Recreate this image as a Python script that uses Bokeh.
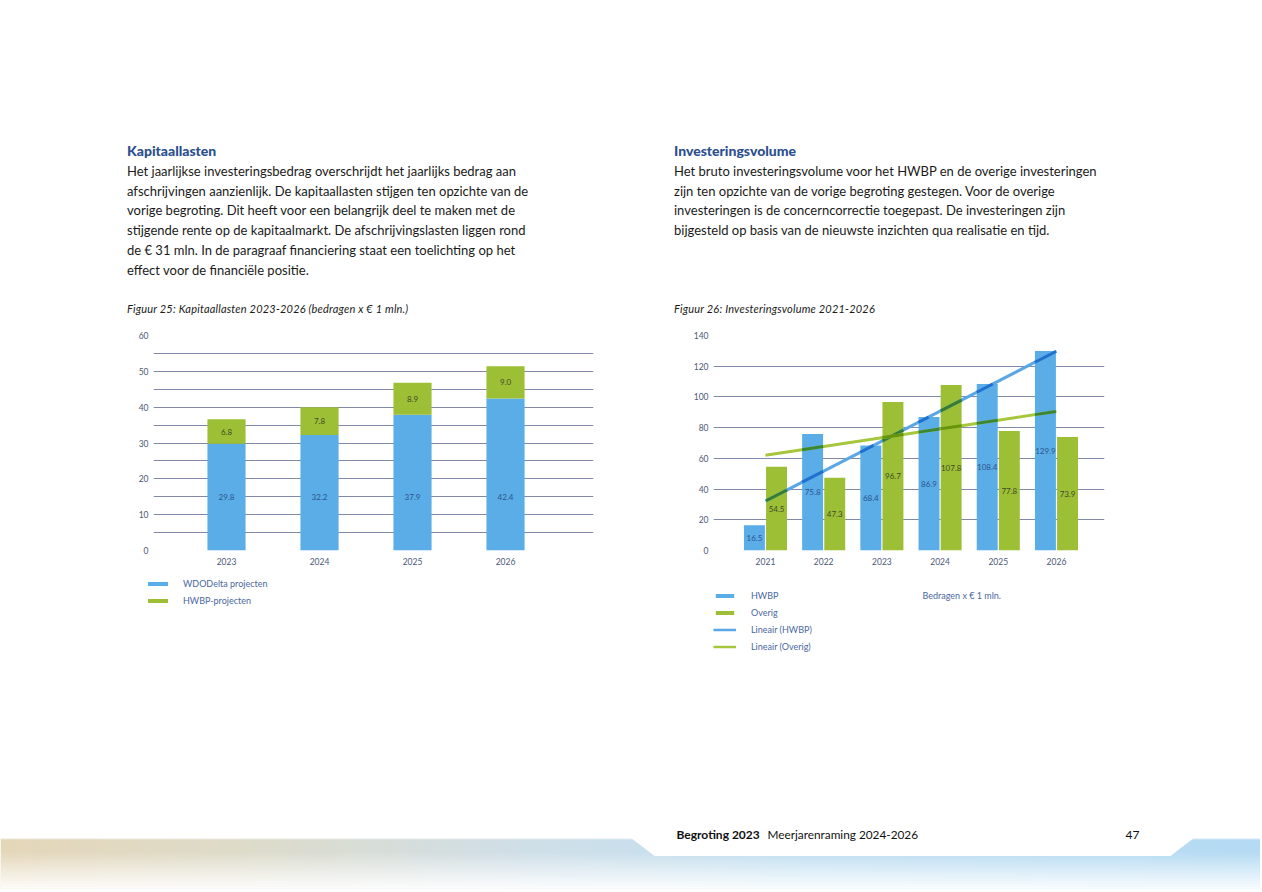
import numpy as np
from bokeh.plotting import figure
from bokeh.models import (Range1d, FixedTicker, Legend, LegendItem, Label, Div,
                          ColumnDataSource)
from bokeh.layouts import column, row
from bokeh.embed import file_html
from bokeh.resources import INLINE
from bokeh.core.properties import value

# ---------------- data ----------------
kap_years = [2023, 2024, 2025, 2026]
kap_wdodelta = [29.8, 32.2, 37.9, 42.4]
kap_hwbp = [6.8, 7.8, 8.9, 9.0]
kap_y_ticks = [0, 10, 20, 30, 40, 50, 60]
kap_series = ["WDODelta projecten", "HWBP-projecten"]

inv_years = [2021, 2022, 2023, 2024, 2025, 2026]
inv_hwbp = [16.5, 75.8, 68.4, 86.9, 108.4, 129.9]
inv_overig = [54.5, 47.3, 96.7, 107.8, 77.8, 73.9]
inv_y_ticks = [0, 20, 40, 60, 80, 100, 120, 140]
inv_series = ["HWBP", "Overig", "Lineair (HWBP)", "Lineair (Overig)"]

# ---------------- style ----------------
FONT = "Lato"
BLUE = "#5aade6"
GREEN = "#9dbf35"
BLUE_LINE = "#5aa6e6"
GREEN_LINE = "#a6c63c"
GRID = "#8089a8"
TICK_TXT = "#4d5878"
LEG_TXT = "#4a68a0"
LBL_BLUE = "#2d548f"
LBL_GREEN = "#3f4a2c"


def hex2rgb(h):
    h = h.lstrip("#")
    return tuple(int(h[i:i + 2], 16) for i in (0, 2, 4))


def multiply(c1, c2):
    a, b = hex2rgb(c1), hex2rgb(c2)
    return "#%02x%02x%02x" % tuple(int(round(x * y / 255)) for x, y in zip(a, b))


def style_fig(p):
    p.outline_line_color = None
    p.background_fill_color = "white"
    p.border_fill_color = "white"
    p.xgrid.grid_line_color = None
    p.ygrid.grid_line_color = GRID
    p.ygrid.grid_line_width = 1
    for ax in (p.xaxis[0], p.yaxis[0]):
        ax.axis_line_color = None
        ax.major_tick_line_color = None
        ax.minor_tick_line_color = None
        ax.major_tick_out = 0
        ax.major_tick_in = 0
        ax.minor_tick_out = 0
        ax.major_label_text_font = FONT
        ax.major_label_text_color = TICK_TXT
        ax.major_label_text_font_size = "8.5px"
    p.yaxis.major_label_standoff = 5
    p.xaxis.major_label_standoff = 7


def legend_fig(width, height):
    f = figure(width=width, height=height, x_range=Range1d(0, 1),
               y_range=Range1d(0, 1), output_backend="svg",
               toolbar_location=None, min_border=0)
    f.axis.visible = False
    f.grid.grid_line_color = None
    f.outline_line_color = None
    return f


def make_legend(items, loc, gw, standoff):
    return Legend(items=items, location=loc, orientation="vertical",
                  background_fill_alpha=0, border_line_color=None, padding=0,
                  margin=0, spacing=0, label_height=17, glyph_height=5,
                  glyph_width=gw, label_standoff=standoff, label_text_font=FONT,
                  label_text_font_size="9px", label_text_color=LEG_TXT)


# ---------------- header text (Div) ----------------
left_lines = [
    "Het jaarlijkse investeringsbedrag overschrijdt het jaarlijks bedrag aan",
    "afschrijvingen aanzienlijk. De kapitaallasten stijgen ten opzichte van de",
    "vorige begroting. Dit heeft voor een belangrijk deel te maken met de",
    "stijgende rente op de kapitaalmarkt. De afschrijvingslasten liggen rond",
    "de € 31 mln. In de paragraaf financiering staat een toelichting op het",
    "effect voor de financiële positie.",
]
right_lines = [
    "Het bruto investeringsvolume voor het HWBP en de overige investeringen",
    "zijn ten opzichte van de vorige begroting gestegen. Voor de overige",
    "investeringen is de concerncorrectie toegepast. De investeringen zijn",
    "bijgesteld op basis van de nieuwste inzichten qua realisatie en tijd.",
]

head_css = ("position:absolute;top:141px;font-family:Lato;font-weight:900;"
            "font-size:14px;line-height:20px;color:#2d4f8e;white-space:nowrap;")
body_css = ("position:absolute;top:162px;font-family:Lato;font-size:13px;"
            "line-height:19.7px;color:#1a1a1a;white-space:nowrap;")
cap_css = ("position:absolute;top:302px;font-family:Lato;font-style:italic;"
           "font-size:11px;letter-spacing:0.2px;line-height:14px;color:#1a1a1a;"
           "white-space:nowrap;")

html = f"""
<div style="position:relative;width:1260px;height:318px;">
  <div style="{head_css}left:127px;">Kapitaallasten</div>
  <div style="{body_css}left:127px;">{'<br>'.join(left_lines)}</div>
  <div style="{cap_css}left:127px;">Figuur 25: Kapitaallasten 2023-2026 (bedragen x € 1 mln.)</div>
  <div style="{head_css}left:674px;">Investeringsvolume</div>
  <div style="{body_css}left:674px;">{'<br>'.join(right_lines)}</div>
  <div style="{cap_css}left:674px;">Figuur 26: Investeringsvolume 2021-2026</div>
</div>
"""
header = Div(text=html, width=1260, height=318, margin=0)

# ---------------- left chart ----------------
p1 = figure(width=640, height=254, x_range=Range1d(2022.215, 2026.946),
            y_range=Range1d(0, 60), output_backend="svg", toolbar_location=None,
            min_border_left=153, min_border_right=47, min_border_top=17,
            min_border_bottom=22)
style_fig(p1)
p1.yaxis.ticker = FixedTicker(ticks=kap_y_ticks)
p1.ygrid.ticker = FixedTicker(ticks=list(np.arange(0, 61, 5)))
p1.xaxis.ticker = FixedTicker(ticks=kap_years)

kw = np.array(kap_wdodelta)
kh = np.array(kap_hwbp)
src1 = ColumnDataSource(dict(
    x=kap_years, w=kw, top2=kw + kh,
    lbl_w=[f"{v:.1f}" for v in kw], lbl_h=[f"{v:.1f}" for v in kh],
    y_w=[kw.min() / 2] * len(kw), y_h=kw + kh / 2,
))
bw = 0.41
p1.vbar(x="x", bottom=0, top="w", width=bw, source=src1,
        fill_color=BLUE, line_color=None)
p1.vbar(x="x", bottom="w", top="top2", width=bw, source=src1,
        fill_color=GREEN, line_color=None)
p1.text(x="x", y="y_w", text="lbl_w", source=src1, text_align="center",
        text_baseline="middle", text_font=value(FONT), text_font_size="8px",
        text_color=LBL_BLUE)
p1.text(x="x", y="y_h", text="lbl_h", source=src1, text_align="center",
        text_baseline="middle", text_font=value(FONT), text_font_size="8px",
        text_color=LBL_GREEN)

# ---------------- right chart ----------------
p2 = figure(width=620, height=254, x_range=Range1d(2020.107, 2026.825),
            y_range=Range1d(0, 140), output_backend="svg", toolbar_location=None,
            min_border_left=73, min_border_right=156, min_border_top=14,
            min_border_bottom=21)
style_fig(p2)
p2.yaxis.ticker = FixedTicker(ticks=inv_y_ticks)
p2.ygrid.ticker = FixedTicker(ticks=inv_y_ticks)
p2.xaxis.ticker = FixedTicker(ticks=inv_years)

off = 0.19
bw2 = 0.36
yrs = np.array(inv_years, dtype=float)
hb = np.array(inv_hwbp)
ho = np.array(inv_overig)
src2 = ColumnDataSource(dict(
    xb=yrs - off, xo=yrs + off, hb=hb, ho=ho,
    lb=[f"{v:.1f}" for v in hb], lo=[f"{v:.1f}" for v in ho],
    yb=hb / 2, yo=ho / 2,
))
p2.vbar(x="xb", top="hb", bottom=0, width=bw2, source=src2,
        fill_color=BLUE, line_color=None)
p2.vbar(x="xo", top="ho", bottom=0, width=bw2, source=src2,
        fill_color=GREEN, line_color=None)

# linear trend lines (least squares over each series)
xi = np.arange(len(yrs))
bars = [(x - off - bw2 / 2, x - off + bw2 / 2, h, BLUE) for x, h in zip(yrs, hb)] + \
       [(x + off - bw2 / 2, x + off + bw2 / 2, h, GREEN) for x, h in zip(yrs, ho)]


def trend(vals, color):
    b, a = np.polyfit(xi, vals, 1)
    x0, x1 = yrs[0], yrs[-1]
    p2.line([x0, x1], [a, a + b * (x1 - x0)], line_color=color, line_width=3)
    segs = {}
    for xl, xr, top, bc in bars:
        lo, hi = max(xl, x0), min(xr, x1)
        if lo >= hi:
            continue
        xc = x0 + (top - a) / b
        if b > 0:
            hi = min(hi, xc)
        else:
            lo = max(lo, xc)
        if hi <= lo:
            continue
        c = multiply(color, bc)
        segs.setdefault(c, ([], []))
        segs[c][0].append([lo, hi])
        segs[c][1].append([a + b * (lo - x0), a + b * (hi - x0)])
    for c, (xs, ys) in segs.items():
        p2.multi_line(xs, ys, line_color=c, line_width=3)


trend(hb, BLUE_LINE)
trend(ho, GREEN_LINE)

p2.text(x="xb", y="yb", text="lb", source=src2, text_align="center",
        text_baseline="middle", text_font=value(FONT), text_font_size="8px",
        text_color=LBL_BLUE)
p2.text(x="xo", y="yo", text="lo", source=src2, text_align="center",
        text_baseline="middle", text_font=value(FONT), text_font_size="8px",
        text_color=LBL_GREEN)

# ---------------- legends (below the charts) ----------------
NA = [float("nan")]
lg1 = legend_fig(640, 90)
e1 = lg1.vbar(x=NA, top=NA, width=0.1, fill_color=BLUE, line_color=None)
e2 = lg1.vbar(x=NA, top=NA, width=0.1, fill_color=GREEN, line_color=None)
lg1.add_layout(make_legend([LegendItem(label=kap_series[0], renderers=[e1]),
                            LegendItem(label=kap_series[1], renderers=[e2])],
                           (145, 53.5), 25, 13))

lg2 = legend_fig(620, 90)
f1 = lg2.vbar(x=NA, top=NA, width=0.1, fill_color=BLUE, line_color=None)
f2 = lg2.vbar(x=NA, top=NA, width=0.1, fill_color=GREEN, line_color=None)
f3 = lg2.line(x=NA, y=NA, line_color=BLUE_LINE, line_width=2.5)
f4 = lg2.line(x=NA, y=NA, line_color=GREEN_LINE, line_width=2.5)
lg2.add_layout(make_legend([LegendItem(label=inv_series[0], renderers=[f1]),
                            LegendItem(label=inv_series[1], renderers=[f2]),
                            LegendItem(label=inv_series[2], renderers=[f3]),
                            LegendItem(label=inv_series[3], renderers=[f4])],
                           (73, 7.5), 23, 15))
lg2.add_layout(Label(x=282, y=67, x_units="screen", y_units="screen",
                     text="Bedragen x € 1 mln.", text_baseline="middle",
                     text_font=FONT, text_font_size="9px", text_color=LEG_TXT))

# ---------------- footer ----------------
pf = figure(width=1260, height=228, x_range=Range1d(0, 1260),
            y_range=Range1d(890, 662), output_backend="svg",
            toolbar_location=None, min_border=0)
pf.axis.visible = False
pf.grid.grid_line_color = None
pf.outline_line_color = None
pf.border_fill_color = "white"
pf.background_fill_color = "white"

stops_x = [0, 250, 520, 800, 1262]
stops_c = [(229, 215, 185), (222, 220, 203), (208, 223, 232),
           (193, 223, 242), (180, 219, 244)]
xe = np.arange(0, 1270, 8)
cols = []
for x in xe[:-1] + 4:
    c = [np.interp(x, stops_x, [s[k] for s in stops_c]) for k in range(3)]
    cols.append("#%02x%02x%02x" % tuple(int(v) for v in c))
pf.quad(left=xe[:-1], right=xe[1:] + 0.5, top=838, bottom=892,
        fill_color=cols, line_color=None)
ye = np.arange(838, 892, 2)
alphas = np.clip((ye + 1 - 850) / 40.0, 0, 1) ** 1.1
pf.quad(left=0, right=1262, top=ye, bottom=ye + 2.2, fill_color="white",
        fill_alpha=alphas, line_color=None)
pf.quad(left=0, right=1262, top=834, bottom=839, fill_color="white",
        fill_alpha=0.4, line_color=None)

# white tab
t = np.linspace(0, 1, 20)
s = (1 - np.cos(np.pi * t)) / 2
lx = 630 + 24 * s
ly = 837 + 18.5 * s
rx = 1194 - 24 * s[::-1]
ry = 837 + 18.5 * s[::-1]
tab_x = [630] + list(lx) + list(rx) + [1194]
tab_y = [820] + list(ly) + list(ry) + [820]
pf.patch(tab_x, tab_y, fill_color="white", line_color=None)

pf.text(x=[676], y=[834], text=["Begroting 2023"], text_font=value(FONT),
        text_font_style="bold", text_font_size="12px", text_color="#111111",
        text_baseline="middle")
pf.text(x=[767], y=[834], text=["Meerjarenraming 2024-2026"],
        text_font=value(FONT), text_font_size="11.8px", text_color="#111111",
        text_baseline="middle")
pf.text(x=[1125], y=[834], text=["47"], text_font=value(FONT),
        text_font_size="12px", text_color="#111111", text_baseline="middle")

layout = column(header, row(p1, p2, spacing=0), row(lg1, lg2, spacing=0), pf,
                spacing=0)
open("out.html", "w").write(file_html(layout, INLINE))
